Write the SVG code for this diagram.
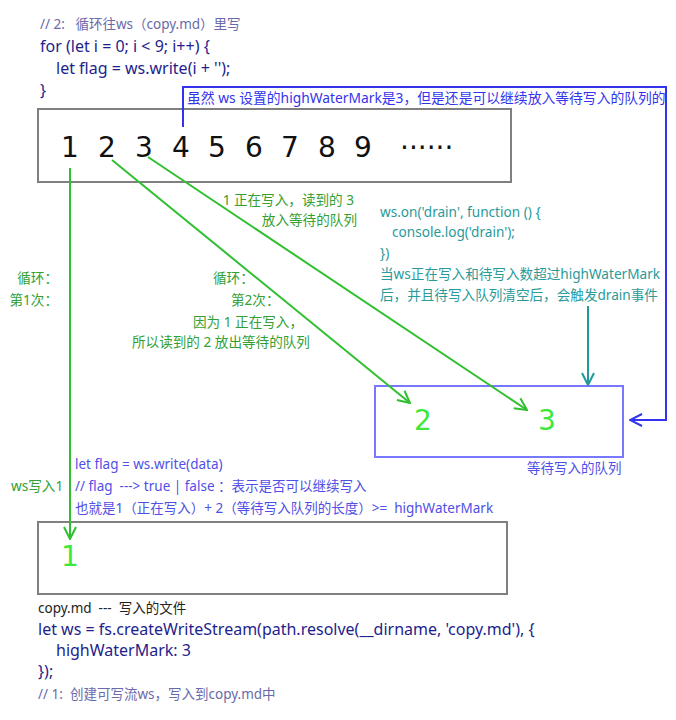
<svg xmlns="http://www.w3.org/2000/svg" width="676" height="720" viewBox="0 0 676 720">
<defs>
<style>
text{font-family:"Noto Sans","Noto Sans CJK SC",sans-serif;white-space:pre}
.code{font-size:16px;fill:#1e1e8c}
.cmt{font-size:13.5px;fill:#6a6aaa}
.num{font-size:28px;fill:#111;font-family:"DejaVu Sans",sans-serif}
.gl{font-size:13.6px;fill:#33a033}
.tl{font-size:13.6px;fill:#2a9a9a}
.bl{font-size:13.5px;fill:#5050e6}
.big{font-size:28px;fill:#3de83d;font-family:"DejaVu Sans",sans-serif}
.box{fill:none;stroke:#808080;stroke-width:2}
.g{stroke:#2fbf2f;stroke-width:2;fill:none}
</style>
<marker id="ag" markerUnits="userSpaceOnUse" viewBox="0 0 14 14" markerWidth="14" markerHeight="14" refX="13" refY="7" orient="auto"><path d="M1,1 L13,7 L1,13" fill="none" stroke="#2fbf2f" stroke-width="2"/></marker>
<marker id="ab" markerUnits="userSpaceOnUse" viewBox="0 0 14 14" markerWidth="14" markerHeight="14" refX="13" refY="7" orient="auto"><path d="M1,1 L13,7 L1,13" fill="none" stroke="#3333ee" stroke-width="2"/></marker>
<marker id="at" markerUnits="userSpaceOnUse" viewBox="0 0 14 14" markerWidth="14" markerHeight="14" refX="13" refY="7" orient="auto"><path d="M1,1 L13,7 L1,13" fill="none" stroke="#1f9a9a" stroke-width="2"/></marker>
</defs>
<rect width="676" height="720" fill="#fff"/>

<g id="code-top">
<text class="cmt" x="40" y="29">// 2:   循环往ws（copy.md）里写</text>
<text class="code" x="40" y="52">for (let i = 0; i &lt; 9; i++) {</text>
<text class="code" x="56" y="74">let flag = ws.write(i + '');</text>
<text class="code" x="40" y="96">}</text>
</g>

<g id="source">
<rect class="box" x="38" y="109" width="473" height="73"/>
<text class="num" x="70" y="157" text-anchor="middle">1</text>
<text class="num" x="107" y="157" text-anchor="middle">2</text>
<text class="num" x="144" y="157" text-anchor="middle">3</text>
<text class="num" x="181" y="157" text-anchor="middle">4</text>
<text class="num" x="217" y="157" text-anchor="middle">5</text>
<text class="num" x="254" y="157" text-anchor="middle">6</text>
<text class="num" x="290" y="157" text-anchor="middle">7</text>
<text class="num" x="327" y="157" text-anchor="middle">8</text>
<text class="num" x="363" y="157" text-anchor="middle">9</text>
<text class="num" x="400" y="157">······</text>
</g>

<g id="queue">
<rect x="375" y="386" width="248" height="71" fill="none" stroke="#7777ff" stroke-width="2"/>
<text class="big" x="423" y="430" text-anchor="middle">2</text>
<text class="big" x="547" y="430" text-anchor="middle">3</text>
<text class="bl" x="527" y="473">等待写入的队列</text>
</g>

<g id="file">
<rect class="box" x="38" y="522" width="469" height="72"/>
<text class="big" x="70" y="566" text-anchor="middle">1</text>
<text x="38" y="613" font-size="13.5" fill="#222">copy.md  ---  写入的文件</text>
<text class="code" x="38" y="635">let ws = fs.createWriteStream(path.resolve(__dirname, 'copy.md'), {</text>
<text class="code" x="56" y="656">highWaterMark: 3</text>
<text class="code" x="38" y="677">});</text>
<text class="cmt" x="38" y="699">// 1:  创建可写流ws，写入到copy.md中</text>
</g>

<g id="connectors">
<path class="g" d="M70,168 V539" marker-end="url(#ag)"/>
<path class="g" d="M112,160 L410,403" marker-end="url(#ag)"/>
<path class="g" d="M148,157 L527,410" marker-end="url(#ag)"/>
<path d="M183,127 V87 H666 V420 H630" fill="none" stroke="#3333ee" stroke-width="2" marker-end="url(#ab)"/>
<path d="M588,306 V385" fill="none" stroke="#1f9a9a" stroke-width="2" marker-end="url(#at)"/>
</g>

<g id="labels">
<text x="187" y="103" font-size="13.8" fill="#3333ee">虽然 ws 设置的highWaterMark是3，但是还是可以继续放入等待写入的队列的</text>
<text class="gl" x="354" y="205" text-anchor="end">1 正在写入，读到的 3</text>
<text class="gl" x="357" y="225" text-anchor="end">放入等待的队列</text>
<text class="gl" x="58" y="283" text-anchor="end">循环：</text>
<text class="gl" x="58" y="305" text-anchor="end">第1次：</text>
<text class="gl" x="213" y="283">循环：</text>
<text class="gl" x="231" y="305">第2次：</text>
<text class="gl" x="193" y="327">因为 1 正在写入，</text>
<text class="gl" x="132" y="347">所以读到的 2 放出等待的队列</text>
<text class="gl" x="11" y="491">ws写入1</text>
<text class="tl" x="380" y="217">ws.on('drain', function () {</text>
<text class="tl" x="392" y="237">console.log('drain');</text>
<text class="tl" x="380" y="258">})</text>
<text class="tl" x="380" y="279">当ws正在写入和待写入数超过highWaterMark</text>
<text class="tl" x="380" y="300">后，并且待写入队列清空后，会触发drain事件</text>
<text class="bl" x="75" y="469">let flag = ws.write(data)</text>
<text class="bl" x="75" y="491">// flag  ---&gt; true | false ：表示是否可以继续写入</text>
<text class="bl" x="75" y="513">也就是1（正在写入）+ 2（等待写入队列的长度）&gt;=  highWaterMark</text>
</g>
</svg>
